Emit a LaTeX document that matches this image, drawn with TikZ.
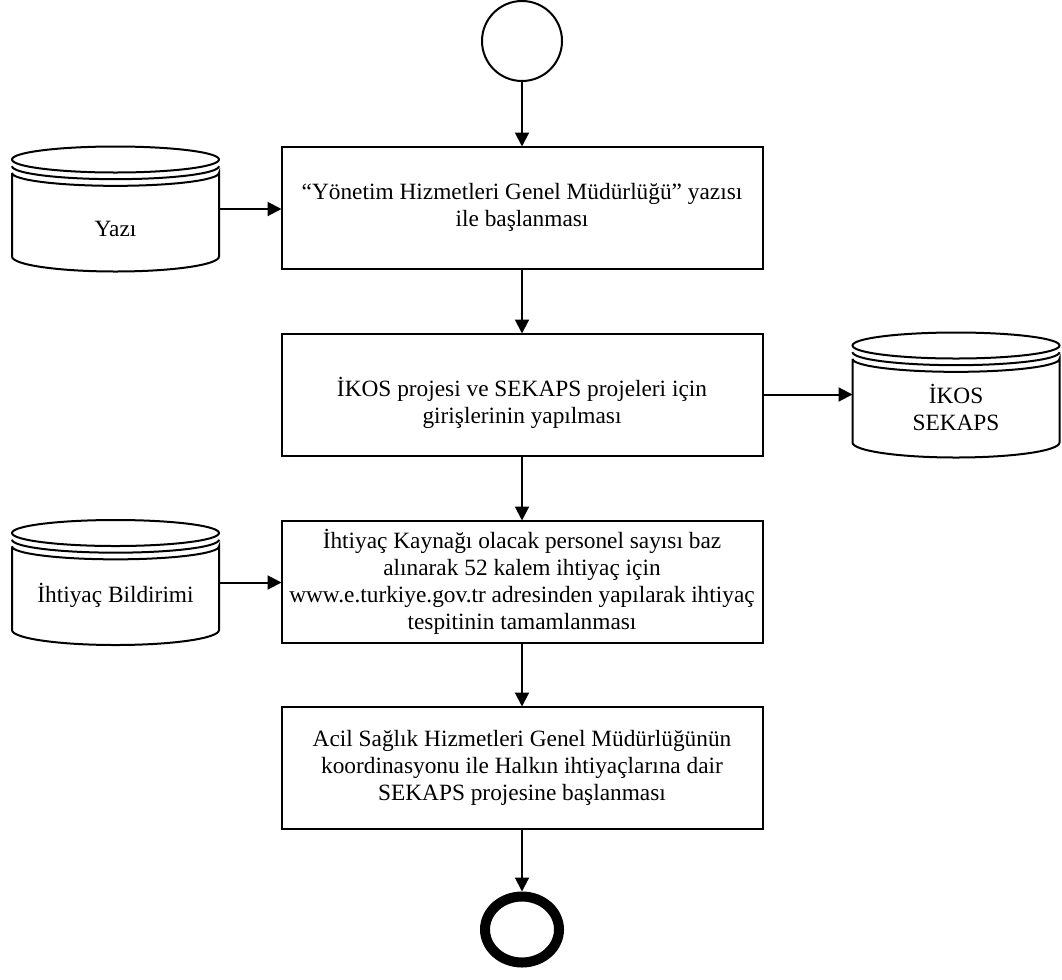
\documentclass[tikz,border=0pt]{standalone}
\usepackage{fontspec}
\setmainfont{Liberation Serif}
\usetikzlibrary{arrows.meta,calc,shapes.geometric}

% data store outline drawn round a named node
\def\storerx{77.625pt}
\def\storery{9.75pt}
\def\storebry{11.25pt}
\def\storegap{5pt}
\newcommand{\drawstore}[1]{%
  \draw[storeline] ([yshift=-\storery]#1.north) ellipse [x radius=\storerx, y radius=\storery];
  \draw[storeline] ([yshift=-\storery-\storegap]#1.north west) arc [start angle=180, end angle=360, x radius=\storerx, y radius=\storery];
  \draw[storeline] ([yshift=-\storery-2*\storegap]#1.north west) -- ([yshift=\storebry]#1.south west)
    arc [start angle=180, end angle=360, x radius=\storerx, y radius=\storebry]
    -- ([yshift=-\storery-2*\storegap]#1.north east)
    arc [start angle=0, end angle=-180, x radius=\storerx, y radius=\storery];
}

\begin{document}
\begin{tikzpicture}[x=0.75pt, y=-0.75pt,
    every node/.style={font=\fontsize{17.5pt}{20.25pt}\selectfont},
    procbox/.style={draw, line width=1.5pt, minimum width=360.75pt, minimum height=91.5pt, align=center, inner sep=0pt, outer sep=0pt},
    storebox/.style={minimum width=155.25pt, minimum height=93.75pt, inner sep=0pt, outer sep=0pt},
    storeline/.style={line width=1.5pt},
    storetext/.style={align=center, inner sep=0pt},
    flow/.style={->, line width=1.5pt},
    >={Triangle[length=10.5pt, width=10.5pt]}]
    \useasboundingbox (0,0) rectangle (1062,979);

    % events
    \node[draw, circle, line width=1.5pt, minimum size=60pt, inner sep=0pt] (start) at (522,41) {};
    \node[draw, ellipse, line width=7.5pt, minimum width=55.5pt, minimum height=49.5pt, inner sep=0pt] (finish) at (522,929.5) {};

    % process steps
    \node[procbox] (baslama) at (522,207.5) {“Yönetim Hizmetleri Genel Müdürlüğü” yazısı\\ile başlanması};
    \node[procbox] (giris) at (522,394.5) {\raisebox{-7.5pt}[\height][\depth]{\begin{tabular}{@{}c@{}}İKOS projesi ve SEKAPS projeleri için\\girişlerinin yapılması\end{tabular}}};
    \node[procbox] (tespit) at (522,581.5) {İhtiyaç Kaynağı olacak personel sayısı baz\\alınarak 52 kalem ihtiyaç için\\www.e.turkiye.gov.tr adresinden yapılarak ihtiyaç\\tespitinin tamamlanması};
    \node[procbox] (sekaps) at (522,767.5) {Acil Sağlık Hizmetleri Genel Müdürlüğünün\\koordinasyonu ile Halkın ihtiyaçlarına dair\\SEKAPS projesine başlanması};

    % data stores
    \node[storebox] (yazi) at (115.5,209) {};
    \node[storebox] (ikosdb) at (956,395) {};
    \node[storebox] (bildirim) at (115.5,582.5) {};
    \drawstore{yazi}
    \drawstore{ikosdb}
    \drawstore{bildirim}
    \node[storetext] (yazi-text) at (115.5,228.5) {Yazı};
    \node[storetext] (ikosdb-text) at (956,407.5) {İKOS\\SEKAPS};
    \node[storetext] (bildirim-text) at (115.5,595.5) {İhtiyaç Bildirimi};

    % connectors
    \draw[flow] (start) -- (baslama);
    \draw[flow] (baslama) -- (giris);
    \draw[flow] (giris) -- (tespit);
    \draw[flow] (tespit) -- (sekaps);
    \draw[flow] (sekaps) -- (finish);
    \draw[flow] (yazi.east) -- (yazi.east -| baslama.west);
    \draw[flow] (giris.east) -- (giris.east -| ikosdb.west);
    \draw[flow] (bildirim.east) -- (bildirim.east -| tespit.west);
\end{tikzpicture}
\end{document}
